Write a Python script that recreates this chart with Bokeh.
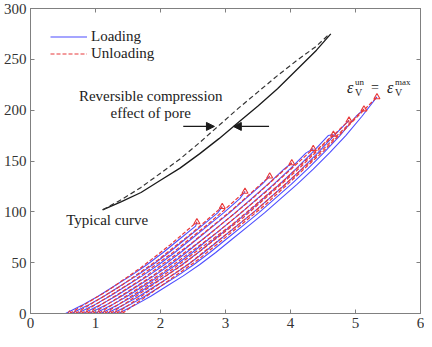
from bokeh.plotting import figure
from bokeh.models import (Range1d, LinearAxis, Legend, LegendItem, Label, Arrow,
                          NormalHead, FixedTicker)
from bokeh.embed import file_html
from bokeh.resources import INLINE

# ---------------- data ----------------
# common loading-curve shape (strain offset from start, stress)
base_dx = [0, 0.25, 0.5, 0.75, 1.0, 1.25, 1.5, 1.75, 2.0, 2.25, 2.5, 2.75, 3.0, 3.25, 3.5, 3.75, 4.0]
base_y = [0, 8, 17, 27, 37, 48, 60, 73, 86, 99, 113, 127, 142, 158, 175, 194, 215]

# cycles: loading start strain, peak point, unloading end strain
load_start = [0.54, 0.63, 0.72, 0.81, 0.90, 0.99, 1.08, 1.17, 1.26, 1.35]
peak_x = [2.56, 2.95, 3.30, 3.68, 4.02, 4.35, 4.66, 4.90, 5.13, 5.33]
peak_y = [90, 105, 120, 135, 148, 162, 176, 190, 201, 213]
unload_end = [0.60, 0.69, 0.78, 0.87, 0.96, 1.05, 1.14, 1.23, 1.32, 1.41]
# unloading path template (fraction of strain span, fraction of stress)
unload_fx = [0, 0.30, 0.56, 0.79, 1.0]
unload_fy = [0, 0.25, 0.50, 0.75, 1.0]

# typical curve (solid) and its unloading (dashed)
typ_x = [1.11, 1.40, 1.70, 2.00, 2.30, 2.60, 2.90, 3.20, 3.50, 3.80, 4.10, 4.40, 4.62]
typ_y = [102, 110, 119, 131, 143, 157, 172, 188, 204, 221, 240, 259, 275]
typ_un_x = [1.11, 1.40, 1.70, 2.00, 2.30, 2.60, 2.90, 3.20, 3.50, 3.80, 4.10, 4.40, 4.60]
typ_un_y = [102, 112, 124, 138, 152, 168, 185, 202, 218, 234, 249, 263, 275]

# arrows of the pore effect annotation: (x_start, x_end, y)
arrow_left = (2.35, 2.83, 184)
arrow_right = (3.67, 3.12, 184)

x_ticks = [0, 1, 2, 3, 4, 5, 6]
y_ticks = [0, 50, 100, 150, 200, 250, 300]

SERIF = "Liberation Serif"
BLUE = "#4d4dff"
RED = "#e8393a"
DARK = "#1a1a1a"

p = figure(width=424, height=335, x_range=Range1d(0, 6), y_range=Range1d(0, 300),
           output_backend="svg", toolbar_location=None,
           min_border_left=28, min_border_right=4, min_border_top=8, min_border_bottom=22)
p.xgrid.visible = False
p.ygrid.visible = False
p.outline_line_color = "#808080"
p.background_fill_color = "white"

for ax, ticks in ((p.xaxis[0], x_ticks), (p.yaxis[0], y_ticks)):
    ax.ticker = FixedTicker(ticks=ticks)
    ax.major_tick_in = 4
    ax.major_tick_out = 0
    ax.minor_tick_line_color = None
    ax.axis_line_color = "#808080"
    ax.major_tick_line_color = "#808080"
    ax.major_label_text_font = SERIF
    ax.major_label_text_font_size = "15px"
    ax.major_label_text_color = "#333333"
    ax.major_label_standoff = 4

for loc, ticks in (("above", x_ticks), ("right", y_ticks)):
    ax = LinearAxis(ticker=FixedTicker(ticks=ticks), major_tick_in=4, major_tick_out=0,
                    minor_tick_line_color=None, axis_line_color="#808080",
                    major_tick_line_color="#808080",
                    major_label_overrides={t: "" for t in ticks},
                    major_label_standoff=0)
    p.add_layout(ax, loc)

# loading / unloading cycles
load_renderers = []
unload_renderers = []
for i in range(len(load_start)):
    xs = [load_start[i] + d for d, yv in zip(base_dx, base_y) if yv < peak_y[i]]
    ys = [yv for yv in base_y if yv < peak_y[i]]
    xs.append(peak_x[i])
    ys.append(peak_y[i])
    r = p.line(xs, ys, line_color=BLUE, line_width=1.1)
    load_renderers.append(r)

for i in range(len(load_start)):
    span = peak_x[i] - unload_end[i]
    ux = [unload_end[i] + f * span for f in unload_fx]
    uy = [f * peak_y[i] for f in unload_fy]
    r = p.line(ux, uy, line_color=RED, line_width=1.2, line_dash="4 2")
    unload_renderers.append(r)

p.scatter(peak_x, peak_y, marker="triangle", size=6, fill_color=None,
          line_color=RED, line_width=1.1)
p.scatter(unload_end, [0] * len(unload_end), marker="triangle", size=5, fill_color=None,
          line_color=RED, line_width=1.0)

# typical curve
p.line(typ_x, typ_y, line_color=DARK, line_width=1.3)
p.line(typ_un_x, typ_un_y, line_color="#333333", line_width=1.2, line_dash="5 3")

for (x0, x1, yv) in (arrow_left, arrow_right):
    p.add_layout(Arrow(end=NormalHead(size=8, fill_color=DARK, line_color=DARK, line_width=1),
                       x_start=x0, y_start=yv, x_end=x1, y_end=yv,
                       line_color=DARK, line_width=1.2))

def lab(x, y, text, size="13px", xo=0, yo=0, align="left", baseline="middle", style="normal"):
    p.add_layout(Label(x=x, y=y, x_offset=xo, y_offset=yo, text=text, text_font=SERIF,
                       text_font_size=size, text_color="#222222", text_align=align,
                       text_baseline=baseline, text_font_style=style))

lab(1.85, 214, "Reversible compression", size="15px", align="center")
lab(1.85, 197, "effect of pore", size="15px", align="center")
lab(0.55, 92, "Typical curve", size="15px")

# epsilon label: eps_V^un = eps_V^max
ex, ey = 4.87, 222
lab(ex, ey, "ε", size="16px", style="italic")
lab(ex, ey, "V", size="10px", xo=8, yo=-5)
lab(ex, ey, "un", size="9px", xo=8, yo=6)
lab(ex, ey, "=", size="14px", xo=24)
lab(ex, ey, "ε", size="16px", xo=40, style="italic")
lab(ex, ey, "V", size="10px", xo=48, yo=-5)
lab(ex, ey, "max", size="9px", xo=48, yo=6)

legend = Legend(items=[LegendItem(label="Loading", renderers=[load_renderers[0]]),
                       LegendItem(label="Unloading", renderers=[unload_renderers[0]])],
                location="top_left", border_line_alpha=0, background_fill_alpha=0,
                label_text_font=SERIF, label_text_font_size="15px",
                label_text_color="#222222", glyph_width=37, glyph_height=15,
                label_height=15, spacing=0, padding=4, margin=16, label_standoff=4)
p.add_layout(legend)

open("out.html", "w").write(file_html(p, INLINE))
